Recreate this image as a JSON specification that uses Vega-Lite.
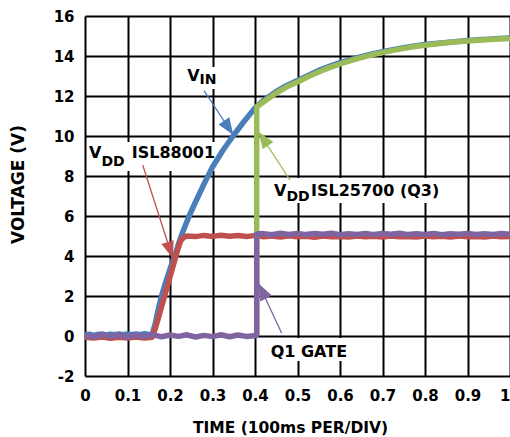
{
  "$schema": "https://vega.github.io/schema/vega-lite/v6.json",
  "width": 425,
  "height": 360,
  "autosize": {"type": "none"},
  "padding": {"left": 85, "top": 16, "right": 0, "bottom": 61},
  "background": "white",
  "config": {
    "view": {"stroke": null},
    "axis": {
      "grid": true, "gridColor": "black", "gridWidth": 2, "gridOpacity": 1,
      "domain": false, "ticks": false, "tickSize": 0,
      "labelFont": "DejaVu Sans", "labelFontWeight": "bold", "labelFontSize": 15, "labelColor": "black",
      "labelFlush": false, "labelOverlap": false,
      "titleFont": "DejaVu Sans", "titleFontWeight": "bold", "titleColor": "black"
    }
  },
  "datasets": {
    "traces": [
      {"s":"VIN","t":0,"v":0.06},{"s":"VIN","t":0.01,"v":0.09},{"s":"VIN","t":0.02,"v":0.03},{"s":"VIN","t":0.03,"v":0.08},{"s":"VIN","t":0.04,"v":0.1},{"s":"VIN","t":0.05,"v":0.05},{"s":"VIN","t":0.06,"v":0.09},{"s":"VIN","t":0.07,"v":0.06},{"s":"VIN","t":0.08,"v":0.1},{"s":"VIN","t":0.09,"v":0.07},{"s":"VIN","t":0.1,"v":0.1},{"s":"VIN","t":0.11,"v":0.06},{"s":"VIN","t":0.12,"v":0.1},{"s":"VIN","t":0.13,"v":0.07},{"s":"VIN","t":0.14,"v":0.11},{"s":"VIN","t":0.15,"v":0.08},{"s":"VIN","t":0.158,"v":0.09},
      {"s":"VIN","t":0.165,"v":0.6},{"s":"VIN","t":0.172,"v":1.3},{"s":"VIN","t":0.18,"v":2.0},{"s":"VIN","t":0.19,"v":2.7},{"s":"VIN","t":0.2,"v":3.35},{"s":"VIN","t":0.21,"v":3.95},{"s":"VIN","t":0.22,"v":4.6},{"s":"VIN","t":0.23,"v":5.2},{"s":"VIN","t":0.245,"v":6.0},{"s":"VIN","t":0.26,"v":6.7},{"s":"VIN","t":0.28,"v":7.6},{"s":"VIN","t":0.3,"v":8.45},{"s":"VIN","t":0.325,"v":9.3},{"s":"VIN","t":0.35,"v":10.05},{"s":"VIN","t":0.375,"v":10.75},{"s":"VIN","t":0.4,"v":11.4},
      {"s":"VIN","t":0.42,"v":11.78},{"s":"VIN","t":0.45,"v":12.23},{"s":"VIN","t":0.475,"v":12.53},{"s":"VIN","t":0.5,"v":12.78},{"s":"VIN","t":0.525,"v":13.03},{"s":"VIN","t":0.55,"v":13.28},{"s":"VIN","t":0.575,"v":13.48},{"s":"VIN","t":0.6,"v":13.67},{"s":"VIN","t":0.625,"v":13.82},{"s":"VIN","t":0.65,"v":13.97},{"s":"VIN","t":0.675,"v":14.1},{"s":"VIN","t":0.7,"v":14.21},{"s":"VIN","t":0.725,"v":14.32},{"s":"VIN","t":0.75,"v":14.42},{"s":"VIN","t":0.775,"v":14.5},{"s":"VIN","t":0.8,"v":14.57},{"s":"VIN","t":0.825,"v":14.63},{"s":"VIN","t":0.85,"v":14.68},{"s":"VIN","t":0.875,"v":14.73},{"s":"VIN","t":0.9,"v":14.77},{"s":"VIN","t":0.925,"v":14.81},{"s":"VIN","t":0.95,"v":14.84},{"s":"VIN","t":0.975,"v":14.87},{"s":"VIN","t":1,"v":14.9},

      {"s":"VDD88001","t":0,"v":-0.06},{"s":"VDD88001","t":0.02,"v":-0.1},{"s":"VDD88001","t":0.04,"v":-0.05},{"s":"VDD88001","t":0.06,"v":-0.11},{"s":"VDD88001","t":0.08,"v":-0.06},{"s":"VDD88001","t":0.1,"v":-0.1},{"s":"VDD88001","t":0.12,"v":-0.05},{"s":"VDD88001","t":0.14,"v":-0.1},{"s":"VDD88001","t":0.158,"v":-0.06},
      {"s":"VDD88001","t":0.165,"v":0.35},{"s":"VDD88001","t":0.172,"v":0.85},{"s":"VDD88001","t":0.18,"v":1.45},{"s":"VDD88001","t":0.19,"v":2.2},{"s":"VDD88001","t":0.2,"v":2.95},{"s":"VDD88001","t":0.21,"v":3.7},{"s":"VDD88001","t":0.218,"v":4.3},{"s":"VDD88001","t":0.225,"v":4.75},{"s":"VDD88001","t":0.232,"v":4.93},{"s":"VDD88001","t":0.24,"v":5.0},
      {"s":"VDD88001","t":0.26,"v":4.97},{"s":"VDD88001","t":0.28,"v":5.03},{"s":"VDD88001","t":0.3,"v":4.98},{"s":"VDD88001","t":0.32,"v":5.04},{"s":"VDD88001","t":0.34,"v":4.99},{"s":"VDD88001","t":0.36,"v":5.02},{"s":"VDD88001","t":0.38,"v":4.97},{"s":"VDD88001","t":0.4,"v":5.03},{"s":"VDD88001","t":0.42,"v":4.96},{"s":"VDD88001","t":0.44,"v":5.0},{"s":"VDD88001","t":0.46,"v":4.95},{"s":"VDD88001","t":0.48,"v":5.01},{"s":"VDD88001","t":0.5,"v":4.96},{"s":"VDD88001","t":0.52,"v":4.99},{"s":"VDD88001","t":0.54,"v":4.94},{"s":"VDD88001","t":0.56,"v":5.0},{"s":"VDD88001","t":0.58,"v":4.96},{"s":"VDD88001","t":0.6,"v":4.98},{"s":"VDD88001","t":0.62,"v":4.95},{"s":"VDD88001","t":0.64,"v":5.0},{"s":"VDD88001","t":0.66,"v":4.96},{"s":"VDD88001","t":0.68,"v":4.99},{"s":"VDD88001","t":0.7,"v":4.95},{"s":"VDD88001","t":0.72,"v":5.0},{"s":"VDD88001","t":0.74,"v":4.96},{"s":"VDD88001","t":0.76,"v":4.98},{"s":"VDD88001","t":0.78,"v":4.95},{"s":"VDD88001","t":0.8,"v":5.0},{"s":"VDD88001","t":0.82,"v":4.96},{"s":"VDD88001","t":0.84,"v":4.99},{"s":"VDD88001","t":0.86,"v":4.95},{"s":"VDD88001","t":0.88,"v":5.0},{"s":"VDD88001","t":0.9,"v":4.96},{"s":"VDD88001","t":0.92,"v":4.98},{"s":"VDD88001","t":0.94,"v":4.95},{"s":"VDD88001","t":0.96,"v":5.0},{"s":"VDD88001","t":0.98,"v":4.96},{"s":"VDD88001","t":1,"v":4.98},

      {"s":"VDD25700","t":0.404,"v":0.05},{"s":"VDD25700","t":0.404,"v":11.45},{"s":"VDD25700","t":0.42,"v":11.7},{"s":"VDD25700","t":0.45,"v":12.15},{"s":"VDD25700","t":0.475,"v":12.46},{"s":"VDD25700","t":0.5,"v":12.7},{"s":"VDD25700","t":0.525,"v":12.96},{"s":"VDD25700","t":0.55,"v":13.2},{"s":"VDD25700","t":0.575,"v":13.42},{"s":"VDD25700","t":0.6,"v":13.6},{"s":"VDD25700","t":0.625,"v":13.77},{"s":"VDD25700","t":0.65,"v":13.92},{"s":"VDD25700","t":0.675,"v":14.06},{"s":"VDD25700","t":0.7,"v":14.17},{"s":"VDD25700","t":0.725,"v":14.28},{"s":"VDD25700","t":0.75,"v":14.38},{"s":"VDD25700","t":0.775,"v":14.47},{"s":"VDD25700","t":0.8,"v":14.54},{"s":"VDD25700","t":0.825,"v":14.6},{"s":"VDD25700","t":0.85,"v":14.66},{"s":"VDD25700","t":0.875,"v":14.71},{"s":"VDD25700","t":0.9,"v":14.75},{"s":"VDD25700","t":0.925,"v":14.79},{"s":"VDD25700","t":0.95,"v":14.82},{"s":"VDD25700","t":0.975,"v":14.85},{"s":"VDD25700","t":1,"v":14.88},

      {"s":"Q1","t":0,"v":0.02},{"s":"Q1","t":0.02,"v":-0.04},{"s":"Q1","t":0.04,"v":0.06},{"s":"Q1","t":0.06,"v":-0.02},{"s":"Q1","t":0.08,"v":0.05},{"s":"Q1","t":0.1,"v":-0.05},{"s":"Q1","t":0.12,"v":0.04},{"s":"Q1","t":0.14,"v":-0.03},{"s":"Q1","t":0.16,"v":0.07},{"s":"Q1","t":0.18,"v":-0.04},{"s":"Q1","t":0.2,"v":0.05},{"s":"Q1","t":0.22,"v":-0.02},{"s":"Q1","t":0.24,"v":0.06},{"s":"Q1","t":0.26,"v":-0.05},{"s":"Q1","t":0.28,"v":0.03},{"s":"Q1","t":0.3,"v":-0.03},{"s":"Q1","t":0.32,"v":0.06},{"s":"Q1","t":0.34,"v":-0.04},{"s":"Q1","t":0.36,"v":0.05},{"s":"Q1","t":0.38,"v":-0.02},{"s":"Q1","t":0.404,"v":0.02},
      {"s":"Q1","t":0.404,"v":5.1},{"s":"Q1","t":0.42,"v":5.12},{"s":"Q1","t":0.44,"v":5.06},{"s":"Q1","t":0.46,"v":5.14},{"s":"Q1","t":0.48,"v":5.08},{"s":"Q1","t":0.5,"v":5.13},{"s":"Q1","t":0.52,"v":5.07},{"s":"Q1","t":0.54,"v":5.12},{"s":"Q1","t":0.56,"v":5.09},{"s":"Q1","t":0.58,"v":5.14},{"s":"Q1","t":0.6,"v":5.06},{"s":"Q1","t":0.62,"v":5.11},{"s":"Q1","t":0.64,"v":5.08},{"s":"Q1","t":0.66,"v":5.13},{"s":"Q1","t":0.68,"v":5.07},{"s":"Q1","t":0.7,"v":5.12},{"s":"Q1","t":0.72,"v":5.09},{"s":"Q1","t":0.74,"v":5.14},{"s":"Q1","t":0.76,"v":5.07},{"s":"Q1","t":0.78,"v":5.11},{"s":"Q1","t":0.8,"v":5.08},{"s":"Q1","t":0.82,"v":5.13},{"s":"Q1","t":0.84,"v":5.06},{"s":"Q1","t":0.86,"v":5.11},{"s":"Q1","t":0.88,"v":5.09},{"s":"Q1","t":0.9,"v":5.12},{"s":"Q1","t":0.92,"v":5.07},{"s":"Q1","t":0.94,"v":5.11},{"s":"Q1","t":0.96,"v":5.08},{"s":"Q1","t":0.98,"v":5.12},{"s":"Q1","t":1,"v":5.09}
    ],
    "boxes": [
      {"x1":0.2329,"x2":0.3153,"y1":13.45,"y2":12.35},
      {"x1":0.0047,"x2":0.3059,"y1":9.7,"y2":8.25},
      {"x1":0.4353,"x2":0.8353,"y1":7.9,"y2":6.65},
      {"x1":0.4259,"x2":0.6376,"y1":-0.1,"y2":-1.25}
    ],
    "arrows": [
      {"s":"VIN","x1":0.28,"y1":12.265,"x2":0.349,"y2":10.05},
      {"s":"VDD88001","x1":0.1358,"y1":8.55,"x2":0.2064,"y2":3.885},
      {"s":"VDD25700","x1":0.4824,"y1":7.8,"x2":0.408,"y2":10.215},
      {"s":"Q1","x1":0.4628,"y1":0.135,"x2":0.408,"y2":2.635}
    ],
    "mainText": [
      {"x":0.2407,"y":12.765,"text":"V"},
      {"x":0.0094,"y":8.885,"text":"V"},
      {"x":0.1099,"y":8.885,"text":"ISL88001"},
      {"x":0.4447,"y":7.0,"text":"V"},
      {"x":0.5318,"y":7.0,"text":"ISL25700 (Q3)"},
      {"x":0.4369,"y":-1.065,"text":"Q1 GATE"}
    ],
    "subText": [
      {"x":0.2694,"y":12.6,"text":"IN"},
      {"x":0.0388,"y":8.5,"text":"DD"},
      {"x":0.4741,"y":6.75,"text":"DD"}
    ]
  },
  "layer": [
    {
      "data": {"name": "boxes"},
      "mark": {"type": "rect", "fill": "white", "stroke": null},
      "encoding": {
        "x": {"field": "x1", "type": "quantitative", "scale": {"domain": [0, 1], "nice": false, "zero": false},
              "axis": {"values": [0,0.1,0.2,0.3,0.4,0.5,0.6,0.7,0.8,0.9,1], "tickCount": 20, "format": ".1~f", "title": "TIME (100ms PER/DIV)",
                       "labelOverlap": false, "labelFlush": false,
                       "labelAlign": {"condition": {"test": "datum.value >= 1", "value": "right"}, "value": "center"},
                       "labelPadding": 12, "titleFontSize": 15.5, "titleX": 205, "titleY": 56, "titleBaseline": "alphabetic"}},
        "x2": {"field": "x2"},
        "y": {"field": "y1", "type": "quantitative", "scale": {"domain": [-2, 16], "nice": false, "zero": false},
              "axis": {"values": [-2,0,2,4,6,8,10,12,14,16], "tickCount": 20, "labelExpr": "datum.value < 0 ? '-' + abs(datum.value) : '' + datum.value", "title": "VOLTAGE (V)",
                       "labelOverlap": false, "labelFlush": false,
                       "labelPadding": 11, "titleFontSize": 17, "titleX": -61.7, "titleY": 168, "titleBaseline": "alphabetic"}},
        "y2": {"field": "y2"}
      }
    },
    {
      "data": {"name": "traces"},
      "transform": [{"filter": "datum.s === 'VIN'"}],
      "mark": {"type": "line", "color": "#4a7ebb", "strokeWidth": 5.5, "strokeJoin": "round"},
      "encoding": {"x": {"field": "t", "type": "quantitative"}, "y": {"field": "v", "type": "quantitative"}, "order": {"value": null}}
    },
    {
      "data": {"name": "traces"},
      "transform": [{"filter": "datum.s === 'VDD88001'"}],
      "mark": {"type": "line", "color": "#c0504d", "strokeWidth": 5.5, "strokeJoin": "round"},
      "encoding": {"x": {"field": "t", "type": "quantitative"}, "y": {"field": "v", "type": "quantitative"}, "order": {"value": null}}
    },
    {
      "data": {"name": "traces"},
      "transform": [{"filter": "datum.s === 'VDD25700'"}],
      "mark": {"type": "line", "color": "#9bbb59", "strokeWidth": 5.5, "strokeJoin": "round"},
      "encoding": {"x": {"field": "t", "type": "quantitative"}, "y": {"field": "v", "type": "quantitative"}, "order": {"value": null}}
    },
    {
      "data": {"name": "traces"},
      "transform": [{"filter": "datum.s === 'Q1'"}],
      "mark": {"type": "line", "color": "#8064a2", "strokeWidth": 5.5, "strokeJoin": "round"},
      "encoding": {"x": {"field": "t", "type": "quantitative"}, "y": {"field": "v", "type": "quantitative"}, "order": {"value": null}}
    },
    {
      "data": {"name": "arrows"},
      "mark": {"type": "rule", "strokeWidth": 1.3},
      "encoding": {
        "x": {"field": "x1", "type": "quantitative"}, "y": {"field": "y1", "type": "quantitative"},
        "x2": {"field": "x2"}, "y2": {"field": "y2"},
        "color": {"field": "s", "type": "nominal", "legend": null,
                  "scale": {"domain": ["VIN","VDD88001","VDD25700","Q1"], "range": ["#4a7ebb","#c0504d","#9bbb59","#8064a2"]}}
      }
    },
    {
      "data": {"name": "arrows"},
      "transform": [{"filter": "datum.s === 'VIN'"}],
      "mark": {"type": "point", "filled": true, "opacity": 1, "color": "#4a7ebb", "shape": "M0,0L-0.38,1L0.38,1Z", "size": 1156, "angle": 146.5},
      "encoding": {"x": {"field": "x2", "type": "quantitative"}, "y": {"field": "y2", "type": "quantitative"}}
    },
    {
      "data": {"name": "arrows"},
      "transform": [{"filter": "datum.s === 'VDD88001'"}],
      "mark": {"type": "point", "filled": true, "opacity": 1, "color": "#c0504d", "shape": "M0,0L-0.38,1L0.38,1Z", "size": 1156, "angle": 162.2},
      "encoding": {"x": {"field": "x2", "type": "quantitative"}, "y": {"field": "y2", "type": "quantitative"}}
    },
    {
      "data": {"name": "arrows"},
      "transform": [{"filter": "datum.s === 'VDD25700'"}],
      "mark": {"type": "point", "filled": true, "opacity": 1, "color": "#9bbb59", "shape": "M0,0L-0.38,1L0.38,1Z", "size": 1156, "angle": -34.6},
      "encoding": {"x": {"field": "x2", "type": "quantitative"}, "y": {"field": "y2", "type": "quantitative"}}
    },
    {
      "data": {"name": "arrows"},
      "transform": [{"filter": "datum.s === 'Q1'"}],
      "mark": {"type": "point", "filled": true, "opacity": 1, "color": "#8064a2", "shape": "M0,0L-0.38,1L0.38,1Z", "size": 1156, "angle": -26.6},
      "encoding": {"x": {"field": "x2", "type": "quantitative"}, "y": {"field": "y2", "type": "quantitative"}}
    },
    {
      "data": {"name": "mainText"},
      "mark": {"type": "text", "font": "DejaVu Sans", "fontWeight": "bold", "fontSize": 16, "color": "black", "align": "left", "baseline": "alphabetic"},
      "encoding": {"x": {"field": "x", "type": "quantitative"}, "y": {"field": "y", "type": "quantitative"}, "text": {"field": "text"}}
    },
    {
      "data": {"name": "subText"},
      "mark": {"type": "text", "font": "DejaVu Sans", "fontWeight": "bold", "fontSize": 14, "color": "black", "align": "left", "baseline": "alphabetic"},
      "encoding": {"x": {"field": "x", "type": "quantitative"}, "y": {"field": "y", "type": "quantitative"}, "text": {"field": "text"}}
    }
  ]
}
